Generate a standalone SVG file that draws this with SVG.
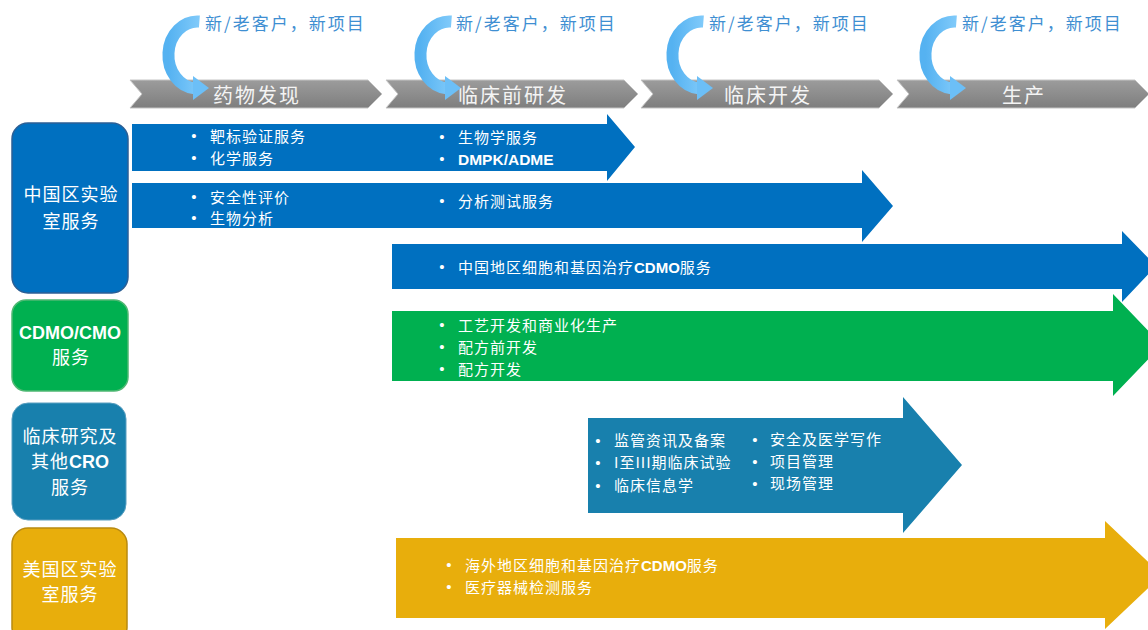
<svg xmlns="http://www.w3.org/2000/svg" width="1148" height="630" viewBox="0 0 1148 630">
<defs>
<linearGradient id="gChev" x1="0" y1="0" x2="0" y2="1">
<stop offset="0" stop-color="#9c9c9c"/><stop offset="1" stop-color="#7e7e7e"/>
</linearGradient>
<linearGradient id="gSwirl" x1="0" y1="0" x2="1" y2="0">
<stop offset="0" stop-color="#55b2f1"/><stop offset="1" stop-color="#80cafa"/>
</linearGradient>
<g id="swirl">
<path d="M199.4 21.6 A29 33.5 0 0 0 195.5 88.5" fill="none" stroke="url(#gSwirl)" stroke-width="12"/>
<polygon points="193,76 209,88 193,100" fill="#6cbff7"/>
</g>
<path id="chev" d="M0 0 H238 L252 14 L238 28 H0 L12 14 Z"/>
</defs>
<style>
text{font-family:"Noto Sans CJK SC","Noto Sans",sans-serif}
.phase{fill:#f4f4f4;font-size:20px;letter-spacing:2px;text-anchor:middle}
.cust{fill:#3f8fd2;font-size:17px;letter-spacing:2px}
.nt{fill:#ffffff;font-size:18px;letter-spacing:1px;text-anchor:middle}
.at{fill:#ffffff;font-size:15px;letter-spacing:1px}
.lat{font-family:"Liberation Sans",Arial,sans-serif;font-weight:bold;letter-spacing:0}
.bul{fill:#ffffff;font-size:15px;text-anchor:middle;font-family:"Liberation Sans",Arial,sans-serif}
.chev{fill:url(#gChev);stroke:#c4c4c4;stroke-width:1}
</style>

<g id="phase-1">
<use href="#chev" transform="translate(130,80)" class="chev"/>
<text class="phase" x="257" y="103">药物发现</text>
</g>
<g id="phase-2">
<use href="#chev" transform="translate(386,80)" class="chev"/>
<text class="phase" x="513" y="103">临床前研发</text>
</g>
<g id="phase-3">
<use href="#chev" transform="translate(641,80)" class="chev"/>
<text class="phase" x="768" y="103">临床开发</text>
</g>
<g id="phase-4">
<use href="#chev" transform="translate(897,80)" class="chev"/>
<text class="phase" x="1024" y="103">生产</text>
</g>

<g id="loop-1">
<use href="#swirl"/>
<text class="cust" x="205" y="30">新/老客户，新项目</text>
</g>
<g id="loop-2">
<use href="#swirl" transform="translate(252,0)"/>
<text class="cust" x="456" y="30">新/老客户，新项目</text>
</g>
<g id="loop-3">
<use href="#swirl" transform="translate(504,0)"/>
<text class="cust" x="709" y="30">新/老客户，新项目</text>
</g>
<g id="loop-4">
<use href="#swirl" transform="translate(757,0)"/>
<text class="cust" x="962" y="30">新/老客户，新项目</text>
</g>

<g id="node-china-lab">
<rect x="12" y="123" width="116" height="170" rx="16" fill="#0070c0" stroke="#2b5f95" stroke-width="1.5"/>
<text class="nt" x="71" y="201">中国区实验</text>
<text class="nt" x="71" y="228">室服务</text>
</g>
<g id="node-cdmo">
<rect x="12" y="300" width="116" height="91" rx="14" fill="#00b050" stroke="#4fb873" stroke-width="1.5"/>
<text class="nt lat" x="70" y="339">CDMO/CMO</text>
<text class="nt" x="71" y="364">服务</text>
</g>
<g id="node-cro">
<rect x="12" y="403" width="114" height="117" rx="16" fill="#1880ad" stroke="#5a9fc0" stroke-width="1"/>
<text class="nt" x="70" y="443">临床研究及</text>
<text class="nt" x="70" y="468">其他<tspan class="lat">CRO</tspan></text>
<text class="nt" x="70" y="494">服务</text>
</g>
<g id="node-us-lab">
<rect x="12" y="528" width="115" height="115" rx="16" fill="#e8ae0c" stroke="#b88a10" stroke-width="1.5"/>
<text class="nt" x="70" y="576">美国区实验</text>
<text class="nt" x="70" y="601">室服务</text>
</g>

<g id="connectors">
<path d="M132 124 H607 V114 L635 147 L607 181 V171 H132 Z" fill="#0070c0"/>
<path d="M132 183 H862 V170 L893 206 L862 242 V228 H132 Z" fill="#0070c0"/>
<path d="M392 244 H1122 V231 L1156 266 L1122 302 V289 H392 Z" fill="#0070c0"/>
<path d="M392 311 H1113 V294 L1162 345 L1113 396 V381 H392 Z" fill="#00b050"/>
<path d="M588 418 H903 V397 L962 465 L903 533 V513 H588 Z" fill="#1880ad"/>
<path d="M396 538 H1105 V521 L1162 575 L1105 629 V618 H396 Z" fill="#e8ae0c"/>
</g>

<g id="labels">
<text class="bul" x="194" y="141">•</text><text class="at" x="210" y="141.5">靶标验证服务</text>
<text class="bul" x="194" y="163">•</text><text class="at" x="210" y="163.5">化学服务</text>
<text class="bul" x="442" y="142">•</text><text class="at" x="458" y="142.5">生物学服务</text>
<text class="bul" x="442" y="164">•</text><text class="at lat" x="458" y="164.5" style="font-size:15.5px">DMPK/ADME</text>

<text class="bul" x="194" y="202">•</text><text class="at" x="210" y="202.5">安全性评价</text>
<text class="bul" x="194" y="223">•</text><text class="at" x="210" y="223.5">生物分析</text>
<text class="bul" x="442" y="206">•</text><text class="at" x="458" y="206.5">分析测试服务</text>

<text class="bul" x="442" y="272">•</text><text class="at" x="458" y="272.5">中国地区细胞和基因治疗<tspan class="lat">CDMO</tspan>服务</text>

<text class="bul" x="442" y="330">•</text><text class="at" x="458" y="330.5">工艺开发和商业化生产</text>
<text class="bul" x="442" y="352">•</text><text class="at" x="458" y="352.5">配方前开发</text>
<text class="bul" x="442" y="374">•</text><text class="at" x="458" y="374.5">配方开发</text>

<text class="bul" x="598" y="446">•</text><text class="at" x="614" y="446">监管资讯及备案</text>
<text class="bul" x="598" y="468">•</text><text class="at" x="614" y="468">I至III期临床试验</text>
<text class="bul" x="598" y="491">•</text><text class="at" x="614" y="491">临床信息学</text>
<text class="bul" x="755" y="445">•</text><text class="at" x="770" y="445">安全及医学写作</text>
<text class="bul" x="755" y="467">•</text><text class="at" x="770" y="467">项目管理</text>
<text class="bul" x="755" y="489">•</text><text class="at" x="770" y="489">现场管理</text>

<text class="bul" x="449" y="570">•</text><text class="at" x="465" y="570.5">海外地区细胞和基因治疗<tspan class="lat">CDMO</tspan>服务</text>
<text class="bul" x="449" y="592">•</text><text class="at" x="465" y="592.5">医疗器械检测服务</text>
</g>
</svg>
